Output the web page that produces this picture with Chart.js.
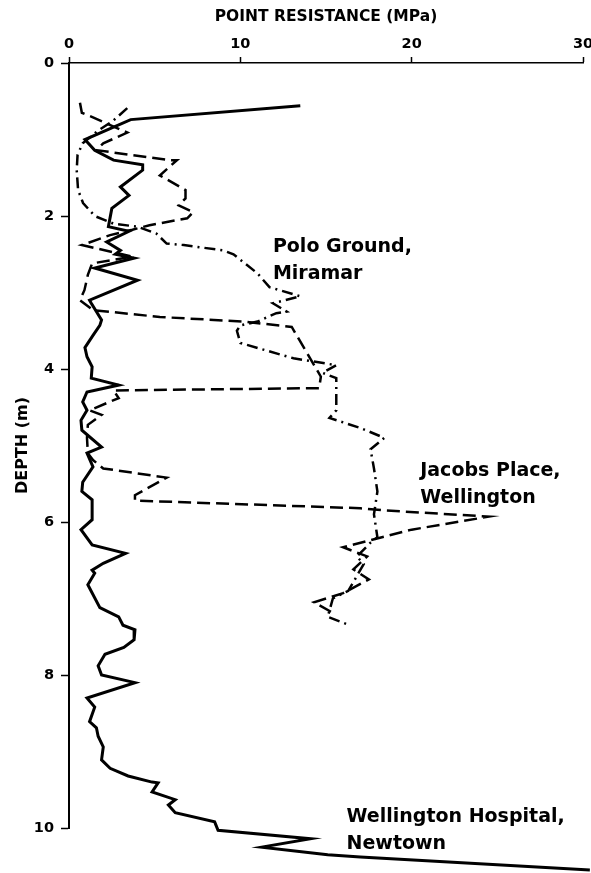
<!DOCTYPE html>
<html>
<head>
<meta charset="utf-8">
<script src="https://cdn.jsdelivr.net/npm/chart.js@4/dist/chart.umd.min.js"></script>
<style>
html,body{margin:0;padding:0;background:#fff;}
#wrap{width:591px;height:873px;}
</style>
</head>
<body>
<div id="wrap"><canvas id="c" width="591" height="873"></canvas></div>
<script>
// ---- data (point resistance in MPa, depth in m) ----
const xTicks = [0, 10, 20, 30];
const yTicks = [0, 2, 4, 6, 8, 10];

const hospitalResistance = [13.5,3.6,0.93,1.5,2.6,4.3,4.3,3.0,3.5,2.5,2.3,3.5,2.2,3.0,2.7,3.8,1.5,4.0,1.2,1.3,1.9,1.8,1.4,0.93,1.05,1.35,1.3,2.9,1.05,0.8,1.05,0.7,0.75,1.9,1.05,1.4,0.8,0.75,1.35,1.35,0.7,1.35,3.3,2.0,1.35,1.5,1.1,1.8,2.9,3.15,3.85,3.8,3.2,2.1,1.7,1.9,3.85,1.05,1.5,1.2,1.6,1.7,2.0,1.9,2.4,3.45,4.85,5.2,4.85,6.2,5.8,6.2,8.5,8.7,14.1,11.25,15.1,17.0,30.4];
const hospitalDepth      = [0.56,0.74,1.0,1.14,1.27,1.33,1.4,1.62,1.73,1.9,2.14,2.2,2.34,2.45,2.5,2.55,2.68,2.84,3.1,3.14,3.36,3.43,3.56,3.72,3.84,3.97,4.12,4.21,4.3,4.43,4.54,4.67,4.8,5.02,5.1,5.28,5.48,5.6,5.71,5.97,6.1,6.3,6.41,6.54,6.63,6.67,6.82,7.12,7.24,7.35,7.41,7.54,7.64,7.73,7.88,8.0,8.1,8.3,8.42,8.61,8.69,8.8,8.94,9.11,9.22,9.32,9.4,9.41,9.53,9.63,9.7,9.8,9.92,10.03,10.14,10.25,10.35,10.38,10.55];

const jacobsResistance = [0.64,0.75,1.3,2.2,3.4,2.0,1.6,5.9,6.3,5.3,6.8,6.8,6.4,7.25,6.9,4.7,3.7,2.4,0.75,3.7,1.35,1.1,0.9,0.64,1.4,5.3,10.2,13.0,14.7,14.6,2.6,2.9,1.2,1.9,1.1,1.05,1.1,1.4,2.0,5.7,3.85,3.85,17.0,18.5,24.5,20.0,16.0,17.4,16.6,17.5,16.0,14.3,15.5];
const jacobsDepth      = [0.52,0.65,0.7,0.79,0.91,1.05,1.14,1.27,1.27,1.47,1.66,1.77,1.86,1.95,2.03,2.12,2.18,2.25,2.38,2.53,2.62,2.77,2.97,3.1,3.23,3.32,3.38,3.45,4.1,4.25,4.28,4.38,4.54,4.6,4.73,4.9,5.1,5.19,5.3,5.42,5.65,5.72,5.82,5.85,5.93,6.1,6.33,6.45,6.62,6.75,6.93,7.05,7.2];

const poloResistance = [3.4,2.6,1.6,0.8,0.5,0.45,0.53,0.82,1.5,2.6,4.0,5.1,5.7,6.7,9.0,9.6,11.0,11.7,13.5,11.9,12.7,12.1,11.0,10.0,9.8,10.0,13.1,15.6,14.8,15.6,15.6,15.2,17.0,18.4,17.6,17.8,18.0,17.8,18.0,17.6,16.8,17.2,16.3,15.4,15.1,16.4];
const poloDepth      = [0.59,0.75,0.9,1.05,1.2,1.4,1.66,1.83,2.0,2.1,2.14,2.23,2.36,2.38,2.45,2.5,2.75,2.93,3.05,3.14,3.25,3.27,3.38,3.43,3.5,3.66,3.86,3.95,4.05,4.12,4.54,4.64,4.77,4.9,5.05,5.3,5.6,5.9,6.2,6.27,6.45,6.55,6.9,7.0,7.24,7.35];

const siteNames = [["Polo Ground,", "Miramar"], ["Jacobs Place,", "Wellington"], ["Wellington Hospital,", "Newtown"]];

// ---- build ----
function pts(xs, ys){ return xs.map((v,i)=>({x:v, y:ys[i]})); }

const FONT = '"DejaVu Sans", "Liberation Sans", sans-serif';

const labelPlacement = [
  {x: 11.9, y: 2.40},
  {x: 20.5, y: 5.33},
  {x: 16.2, y: 9.86}
];

const siteLabelPlugin = {
  id: 'siteLabels',
  afterDatasetsDraw(chart){
    const {ctx, scales} = chart;
    ctx.save();
    ctx.font = 'bold 19px ' + FONT;
    ctx.fillStyle = '#000';
    ctx.textBaseline = 'middle';
    ctx.textAlign = 'left';
    siteNames.forEach((lines, i) => {
      const px = scales.x.getPixelForValue(labelPlacement[i].x);
      const py = scales.y.getPixelForValue(labelPlacement[i].y);
      lines.forEach((t, j) => ctx.fillText(t, px, py + j * 27));
    });
    ctx.restore();
  }
};

const tickFont = {family: FONT, weight: 'bold', size: 14.5};

new Chart(document.getElementById('c'), {
  type: 'scatter',
  data: {
    datasets: [
      {label: 'Wellington Hospital, Newtown', data: pts(hospitalResistance, hospitalDepth), showLine: true,
       borderColor: '#000', borderWidth: 3, pointRadius: 0, clip: false, tension: 0},
      {label: 'Jacobs Place, Wellington', data: pts(jacobsResistance, jacobsDepth), showLine: true,
       borderColor: '#000', borderWidth: 2.5, borderDash: [13, 6], pointRadius: 0, clip: false, tension: 0},
      {label: 'Polo Ground, Miramar', data: pts(poloResistance, poloDepth), showLine: true,
       borderColor: '#000', borderWidth: 2.5, borderDash: [11, 5, 2, 5], pointRadius: 0, clip: false, tension: 0}
    ]
  },
  options: {
    responsive: false,
    animation: false,
    devicePixelRatio: 1,
    layout: {padding: {left: 0, top: 0, right: 8, bottom: 45}},
    plugins: {legend: {display: false}, tooltip: {enabled: false}},
    scales: {
      x: {
        type: 'linear', position: 'top', min: 0, max: 30,
        afterBuildTicks(s){ s.ticks = xTicks.map(v => ({value: v})); },
        ticks: {color: '#000', font: tickFont, padding: 4},
        grid: {drawOnChartArea: false, drawTicks: true, tickLength: 6, tickColor: '#000', tickWidth: 1.5},
        border: {display: true, color: '#000', width: 1.5},
        title: {display: true, text: 'POINT RESISTANCE (MPa)', color: '#000',
                font: {family: FONT, weight: 'bold', size: 15.5}, padding: {top: 8, bottom: 0}},
        afterFit(s){ s.height = 63; s.paddingLeft = 0; s.paddingRight = 0; }
      },
      y: {
        type: 'linear', reverse: true, min: 0, max: 10,
        afterBuildTicks(s){ s.ticks = yTicks.map(v => ({value: v})); },
        ticks: {color: '#000', font: tickFont, padding: 7},
        grid: {drawOnChartArea: false, drawTicks: true, tickLength: 8, tickColor: '#000', tickWidth: 1.5},
        border: {display: true, color: '#000', width: 2},
        title: {display: true, text: 'DEPTH (m)', color: '#000',
                font: {family: FONT, weight: 'bold', size: 16}, padding: {top: 13, bottom: 0}},
        afterFit(s){ s.width = 69; s.paddingTop = 0; s.paddingBottom = 0; }
      }
    }
  },
  plugins: [siteLabelPlugin]
});
</script>
</body>
</html>
